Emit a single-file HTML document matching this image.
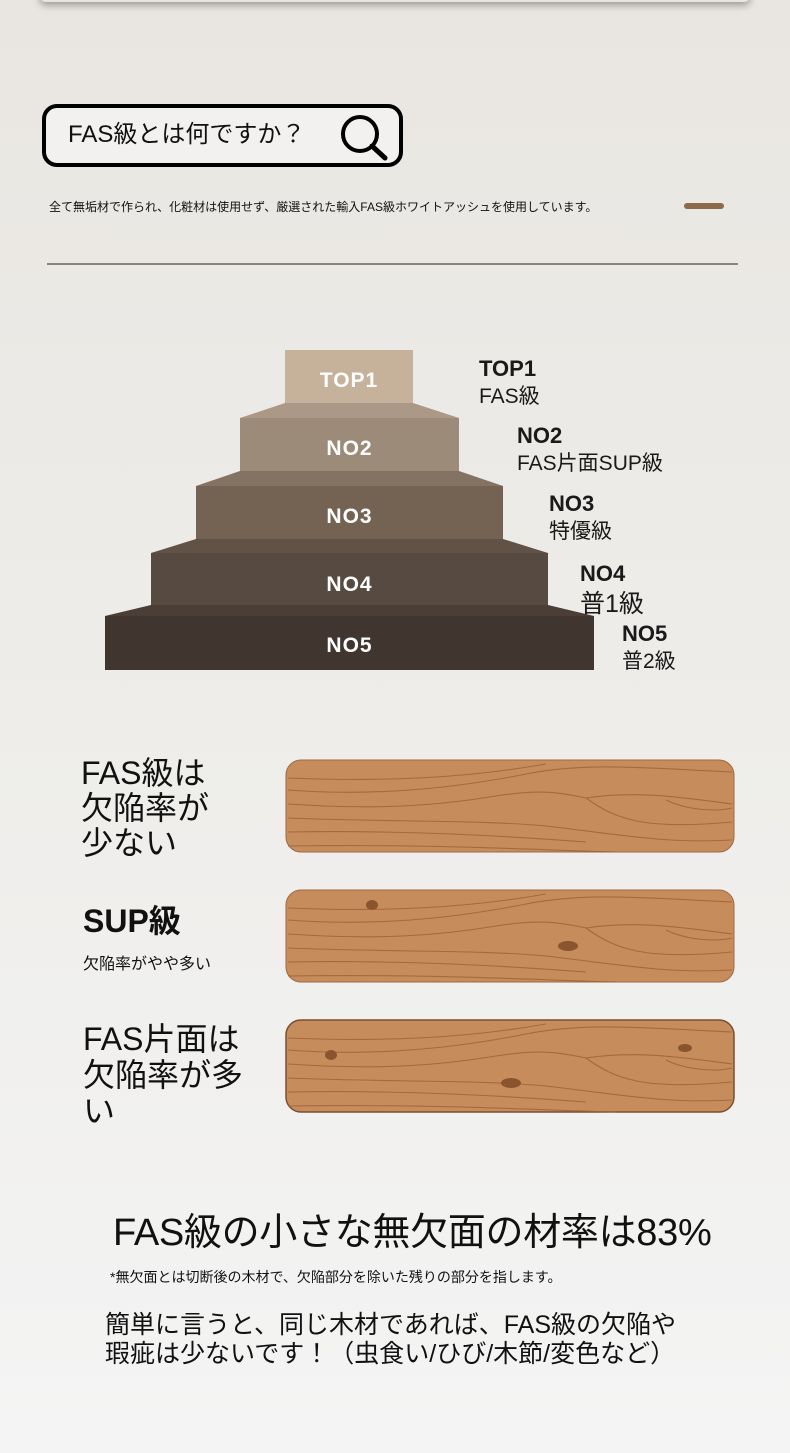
<!DOCTYPE html>
<html><head><meta charset="utf-8"><style>
*{margin:0;padding:0;box-sizing:border-box}
body{width:790px;height:1453px;overflow:hidden;background:linear-gradient(#e9e6e1,#eeedea 50%,#f4f4f4);font-family:"Liberation Sans","Noto Sans CJK JP",sans-serif;color:#111;position:relative}
.a{position:absolute;white-space:nowrap}
.st{position:absolute;color:#fff;font-weight:bold;font-size:21px;text-align:center;line-height:1;letter-spacing:1px}
.lb{position:absolute;font-size:21px;line-height:27px;color:#1a1a1a}
.lb b{font-size:22px}
</style></head><body>
<div class="a" style="left:40px;top:-14px;width:710px;height:16px;background:#e8e5e0;box-shadow:0 3px 8px rgba(0,0,0,.35);border-radius:6px"></div>

<div class="a" style="left:42px;top:104px;width:361px;height:63px;border:4px solid #000;border-radius:15px;background:#f2f1ef"></div>
<div class="a" style="left:68px;top:120px;font-size:24px;line-height:30px">FAS級とは何ですか？</div>
<svg class="a" style="left:338px;top:112px" width="52" height="50"><circle cx="22" cy="22" r="17" fill="none" stroke="#000" stroke-width="4"/><line x1="34" y1="34" x2="47" y2="46" stroke="#000" stroke-width="5" stroke-linecap="round"/></svg>

<div class="a" style="left:49px;top:199px;font-size:12px;line-height:16px">全て無垢材で作られ、化粧材は使用せず、厳選された輸入FAS級ホワイトアッシュを使用しています。</div>
<div class="a" style="left:684px;top:203px;width:40px;height:6px;border-radius:3px;background:#8b6b4a"></div>
<div class="a" style="left:47px;top:263px;width:691px;height:2px;background:#858585"></div>

<svg class="a" style="left:0;top:0" width="790" height="700">
<rect x="285" y="350" width="128" height="54" fill="#c6b19a"/>
<polygon points="285,403 413,403 459,418 240,418" fill="#ab9886"/>
<rect x="240" y="418" width="219" height="54" fill="#9d8b7a"/>
<polygon points="240,471 459,471 503,486 196,486" fill="#847363"/>
<rect x="196" y="486" width="307" height="54" fill="#746353"/>
<polygon points="196,539 503,539 548,553 151,553" fill="#605247"/>
<rect x="151" y="553" width="397" height="53" fill="#574a41"/>
<polygon points="151,605 548,605 594,616 105,616" fill="#4a3e37"/>
<rect x="105" y="616" width="489" height="54" fill="#41362f"/>
</svg>
<div class="st" style="left:285px;top:370px;width:128px">TOP1</div>
<div class="st" style="left:240px;top:438px;width:219px">NO2</div>
<div class="st" style="left:196px;top:506px;width:307px">NO3</div>
<div class="st" style="left:151px;top:574px;width:397px">NO4</div>
<div class="st" style="left:105px;top:635px;width:489px">NO5</div>

<div class="lb" style="left:479px;top:355px"><b>TOP1</b><br>FAS級</div>
<div class="lb" style="left:517px;top:422px"><b>NO2</b><br>FAS片面SUP級</div>
<div class="lb" style="left:549px;top:490px"><b>NO3</b><br>特優級</div>
<div class="lb" style="left:580px;top:558px;font-size:25px;line-height:30px"><b>NO4</b><br>普1級</div>
<div class="lb" style="left:622px;top:620px"><b>NO5</b><br>普2級</div>

<div class="a" style="left:81px;top:756px;font-size:32px;line-height:35px">FAS級は<br>欠陥率が<br>少ない</div>
<div class="a" style="left:83px;top:900px;font-size:32px;line-height:42px;font-weight:bold">SUP級</div>
<div class="a" style="left:83px;top:954px;font-size:16px;line-height:22px">欠陥率がやや多い</div>
<div class="a" style="left:83px;top:1021px;font-size:32px;line-height:36px">FAS片面は<br>欠陥率が多<br>い</div>

<svg class="a" style="left:280px;top:755px" width="462" height="365">
<defs>
<g id="grain" fill="none" stroke="#9c6238" stroke-width="1.1" opacity=".8">
<path d="M2 18 C100 22 180 18 260 4"/>
<path d="M2 30 C80 36 160 30 240 14 C300 2 360 8 446 12"/>
<path d="M2 44 C90 50 150 46 210 36 C260 28 280 34 300 38 C350 30 400 38 446 44"/>
<path d="M300 38 C330 60 360 70 446 62"/>
<path d="M380 40 C400 50 430 52 446 48"/>
<path d="M2 58 C100 62 200 60 260 66 C330 74 380 84 446 80"/>
<path d="M2 72 C120 70 220 76 300 82"/>
<path d="M2 86 C150 84 250 90 330 92"/>
</g>
</defs>
<g transform="translate(6,5)"><rect width="448" height="92" rx="15" fill="#c68c5b" stroke="#9e6a45" stroke-width="1"/><use href="#grain"/></g>
<g transform="translate(6,135)"><rect width="448" height="92" rx="15" fill="#c68c5b" stroke="#9e6a45" stroke-width="1"/><use href="#grain"/>
<ellipse cx="86" cy="15" rx="6" ry="5" fill="#8a552e"/><ellipse cx="282" cy="56" rx="10" ry="5" fill="#8a552e"/></g>
<g transform="translate(6,265)"><rect width="448" height="92" rx="15" fill="#c68c5b" stroke="#7a4e30" stroke-width="1.5"/><use href="#grain"/>
<ellipse cx="45" cy="35" rx="6" ry="5" fill="#8a552e"/><ellipse cx="225" cy="63" rx="10" ry="5" fill="#8a552e"/><ellipse cx="399" cy="28" rx="7" ry="4" fill="#8a552e"/></g>
</svg>

<div class="a" style="left:113px;top:1208px;font-size:38px;line-height:50px;letter-spacing:-0.3px">FAS級の小さな無欠面の材率は83%</div>
<div class="a" style="left:110px;top:1267px;font-size:14px;line-height:20px">*無欠面とは切断後の木材で、欠陥部分を除いた残りの部分を指します。</div>
<div class="a" style="left:105px;top:1311px;font-size:25px;line-height:29px">簡単に言うと、同じ木材であれば、FAS級の欠陥や<br>瑕疵は少ないです！（虫食い/ひび/木節/変色など）</div>
</body></html>
